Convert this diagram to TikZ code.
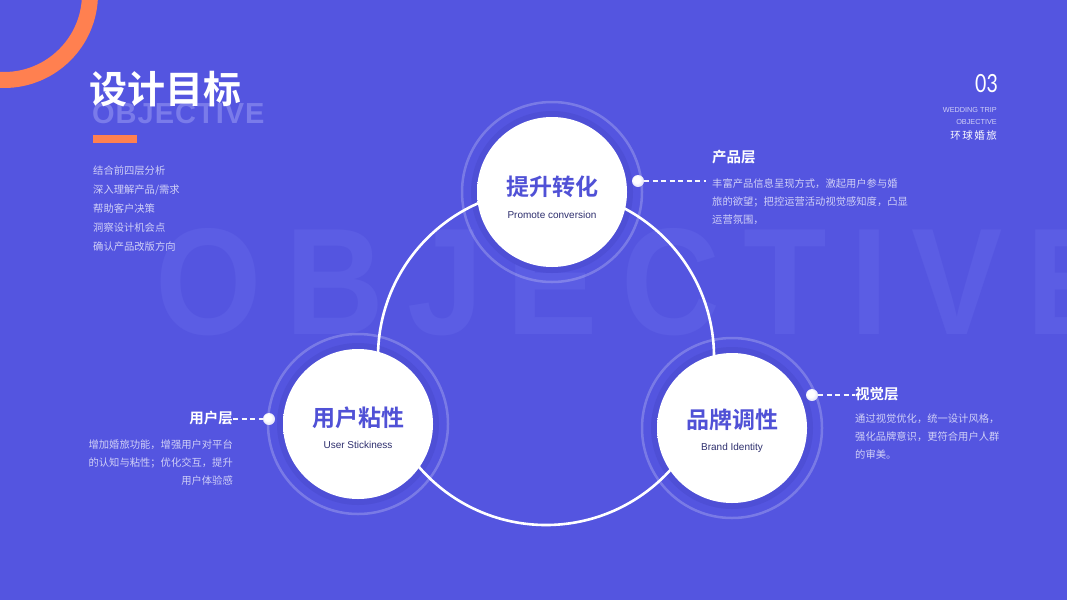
\documentclass[tikz,border=0pt]{standalone}
\usepackage{fontspec}
\setmainfont{Liberation Sans}
\newfontfamily\cjk{Noto Sans CJK SC}
\newfontfamily\cjkb{Noto Sans CJK SC Bold}
\newfontfamily\latin{Liberation Sans}
\newfontfamily\lato{Lato}
\definecolor{bg}{RGB}{84,85,224}
\definecolor{bgdark}{RGB}{78,79,214}
\definecolor{wmbig}{RGB}{91,93,228}
\definecolor{wmsmall}{RGB}{122,123,234}
\definecolor{accent}{RGB}{255,128,80}
\definecolor{para}{RGB}{208,208,247}
\definecolor{lav}{RGB}{178,178,238}
\definecolor{titleblue}{RGB}{80,81,214}
\definecolor{navy}{RGB}{46,47,110}
\pgfdeclareradialshading{discshade}{\pgfpoint{0bp}{0bp}}{color(0bp)=(white); color(44bp)=(white); color(50bp)=(lav)}
\pgfdeclareradialshading{haloshade}{\pgfpoint{0bp}{0bp}}{color(0bp)=(bgdark); color(46bp)=(bgdark); color(50bp)=(bg)}
\pgfdeclareradialshading{dotshade}{\pgfpoint{-8bp}{8bp}}{color(0bp)=(white); color(14bp)=(white); color(50bp)=(lav)}
\begin{document}
\begin{tikzpicture}[x=1pt,y=-1pt,
  disc/.style={circle, minimum size=150pt, inner sep=0pt, shade, shading=discshade},
  halo/.style={circle, minimum size=162pt, inner sep=0pt, shade, shading=haloshade},
  outerring/.style={circle, minimum size=180pt, inner sep=0pt, draw=white, draw opacity=0.22, line width=2.5pt},
  dot/.style={circle, minimum size=12pt, inner sep=0pt, shade, shading=dotshade},
  ctitle/.style={inner sep=0pt, text=titleblue, font=\cjkb\fontsize{23}{23}\selectfont},
  csub/.style={inner sep=0pt, text=navy, font=\latin\fontsize{10}{10}\selectfont},
  head/.style={inner sep=0pt, text=white, font=\cjkb\fontsize{14.5}{14.5}\selectfont},
  para/.style={inner sep=0pt, text=para, font=\cjk\fontsize{10.3}{18}\selectfont},
  dashline/.style={draw=white!88!lav, line width=1.4pt, dash pattern=on 5pt off 3.5pt},
]
\useasboundingbox (0,0) rectangle (1067,600);
\clip (0,0) rectangle (1067,600);
\fill[bg] (0,0) rectangle (1067,600);

% big watermark
\node[anchor=base west, inner sep=0pt, text=wmbig, font=\latin\bfseries\fontsize{152}{152}\selectfont] (wm) at (155,334)
  {\scalebox{0.9}[1]{O\kern26pt B\kern26pt J\kern26pt E\kern26pt C\kern26pt T\kern26pt I\kern26pt V\kern26pt E}};

% orange arc
\draw[accent, line width=16pt] (4,-6) circle (86);

% title block
\node[anchor=base west, inner sep=0pt, text=wmsmall, font=\latin\bfseries\fontsize{29}{29}\selectfont] (wms) at (92,123)
  {O\kern1pt B\kern1pt J\kern1pt E\kern1pt C\kern1pt T\kern1pt I\kern1pt V\kern1pt E};
\node[anchor=base west, inner sep=0pt, text=white, font=\cjkb\fontsize{38}{38}\selectfont] (title) at (89,103) {设计目标};
\fill[accent] (93,135) rectangle (137,143);
\node[para, anchor=base west, align=left, font=\cjk\fontsize{10.3}{19}\selectfont] (list) at (93,250)
  {结合前四层分析\\深入理解产品/需求\\帮助客户决策\\洞察设计机会点\\确认产品改版方向};

% circles: outer rings and soft shadow
\foreach \p/\n in {{(552,192)}/a, {(358,424)}/b, {(732,428)}/c}{
  \node[outerring] (r\n) at \p {};
  \node[halo] (h\n) at \p {};
}

% big ring
\draw[white, line width=2.6pt] (546,357) circle (168);

\node[disc] (n1) at (552,192) {};
\node[disc] (n2) at (358,424) {};
\node[disc] (n3) at (732,428) {};

\node[ctitle] at ([yshift=5pt]n1.center) {提升转化};
\node[csub] at ([yshift=-23pt]n1.center) {Promote conversion};
\node[ctitle] at ([yshift=6pt]n2.center) {用户粘性};
\node[csub] at ([yshift=-21pt]n2.center) {User Stickiness};
\node[ctitle] at ([yshift=8pt]n3.center) {品牌调性};
\node[csub] at ([yshift=-20pt]n3.center) {Brand Identity};

% dots
\node[dot] (d1) at (638,181) {};
\node[dot] (d2) at (269,419) {};
\node[dot] (d3) at (812,395) {};

% headers
\node[head, anchor=west] (h1) at (712,157) {产品层};
\node[head, anchor=east] (h2) at (233,418) {用户层};
\node[head, anchor=west] (h3) at (855,394) {视觉层};

\coordinate (e1) at (706,181);
\draw[dashline] (d1.east) -- (e1);
\draw[dashline] (h2.east |- d2) -- (d2.west);
\draw[dashline] (d3.east) -- (h3.west |- d3);

% paragraphs
\node[para, anchor=base west, align=left] (p1) at (712,223)
  {丰富产品信息呈现方式，激起用户参与婚\\旅的欲望；把控运营活动视觉感知度，凸显\\运营氛围，};
\node[para, anchor=base east, align=right] (p2) at (233,484)
  {增加婚旅功能，增强用户对平台\\的认知与粘性；优化交互，提升\\用户体验感};
\node[para, anchor=base west, align=left] (p3) at (855,458)
  {通过视觉优化，统一设计风格，\\强化品牌意识，更符合用户人群\\的审美。};

% top right
\node[anchor=east, inner sep=0pt, text=white, font=\lato\fontsize{25}{25}\selectfont] (num) at (998,84) {\scalebox{0.78}[1]{03}};
\node[anchor=east, inner sep=0pt, text=para, font=\latin\fontsize{7.3}{8}\selectfont] (w1) at (997,110) {WEDDING TRIP};
\node[anchor=east, inner sep=0pt, text=para, font=\latin\fontsize{7.3}{8}\selectfont] (w2) at (997,122) {OBJECTIVE};
\node[anchor=east, inner sep=0pt, text=white!90!para, font=\cjk\fontsize{10.5}{11}\selectfont] (w3) at (997,136) {环\kern1.5pt 球\kern1.5pt 婚\kern1.5pt 旅};
\end{tikzpicture}
\end{document}
